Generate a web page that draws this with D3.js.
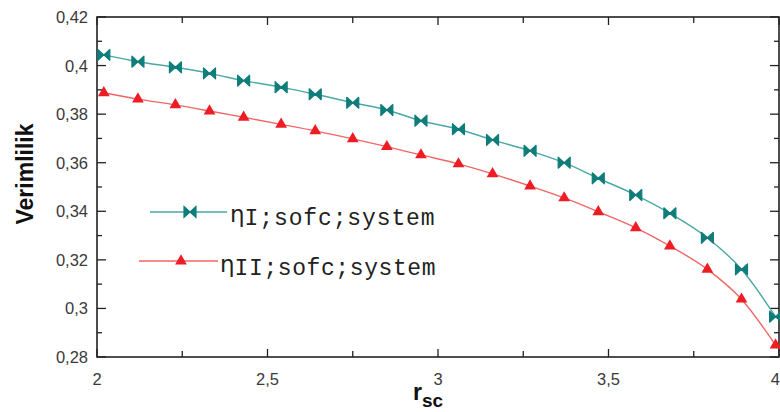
<!DOCTYPE html>
<html><head><meta charset="utf-8">
<script src="https://cdn.jsdelivr.net/npm/d3@7"></script>
<style>html,body{margin:0;padding:0;background:#fff;overflow:hidden}</style>
</head><body><svg id="c" width="780" height="412"></svg>
<script>
const rsc = [2.02,2.12,2.23,2.33,2.43,2.54,2.64,2.75,2.85,2.95,3.06,3.16,3.27,3.37,3.47,3.58,3.68,3.79,3.89,3.99];
const etaI = [0.4044,0.4016,0.3993,0.3968,0.3938,0.3911,0.3882,0.3847,0.3817,0.3773,0.3738,0.3694,0.3649,0.3600,0.3536,0.3467,0.3392,0.3291,0.3161,0.2966];
const etaII = [0.3888,0.3862,0.3838,0.3813,0.3787,0.3758,0.3731,0.3698,0.3666,0.3632,0.3595,0.3554,0.3504,0.3455,0.3398,0.3332,0.3257,0.3161,0.3038,0.2849];
const xTicks = [2,2.5,3,3.5,4];
const xTickLabels = ["2","2,5","3","3,5","4"];
const yTicks = [0.28,0.30,0.32,0.34,0.36,0.38,0.40,0.42];
const yTickLabels = ["0,28","0,3","0,32","0,34","0,36","0,38","0,4","0,42"];
const seriesNames = ["I;sofc;system","II;sofc;system"];

const svg = d3.select("#c");
const L=97,R=779,T=17,B=357;
const x = d3.scaleLinear().domain([2,4]).range([L,R]);
const y = d3.scaleLinear().domain([0.28,0.42]).range([B,T]);
const axisCol="#222";

// ticks (inward, mirrored)
const xMinor = d3.range(2,4.001,0.25);
const yMinor = d3.range(0.28,0.4201,0.01);
const tk = svg.append("g").attr("stroke",axisCol).attr("stroke-width",1.3);
xMinor.forEach(v=>{
  const major = Math.abs(v*2-Math.round(v*2))<1e-6;
  const len = major?8:6;
  tk.append("line").attr("x1",x(v)).attr("x2",x(v)).attr("y1",B).attr("y2",B-len);
  tk.append("line").attr("x1",x(v)).attr("x2",x(v)).attr("y1",T).attr("y2",T+len);
});
yMinor.forEach(v=>{
  const major = Math.abs(v*50-Math.round(v*50))<1e-6;
  const len = major?9:5;
  tk.append("line").attr("y1",y(v)).attr("y2",y(v)).attr("x1",L).attr("x2",L+len);
  tk.append("line").attr("y1",y(v)).attr("y2",y(v)).attr("x1",R).attr("x2",R-len);
});
svg.append("rect").attr("x",L).attr("y",T).attr("width",R-L).attr("height",B-T)
  .attr("fill","none").attr("stroke",axisCol).attr("stroke-width",1.6);

// tick labels
const lab = svg.append("g").attr("font-family","Liberation Sans, Arial, sans-serif").attr("font-size",16.5).attr("fill","#3a3a3a");
yTicks.forEach((v,i)=>{
  lab.append("text").attr("x",L-9).attr("y",y(v)).attr("dy","0.36em").attr("text-anchor","end").text(yTickLabels[i]);
});
xTicks.forEach((v,i)=>{
  const last = i===xTicks.length-1;
  lab.append("text").attr("x",last?780:x(v)).attr("y",385).attr("text-anchor",last?"end":"middle").text(xTickLabels[i]);
});

// axis titles
svg.append("text").attr("transform","translate(33,174) rotate(-90)").attr("text-anchor","middle")
  .attr("font-family","Liberation Sans, Arial, sans-serif").attr("font-weight","bold").attr("font-size",23).attr("fill","#111")
  .text("Verimlilik");
const xt = svg.append("text").attr("x",413).attr("y",400)
  .attr("font-family","Liberation Sans, Arial, sans-serif").attr("font-weight","bold").attr("fill","#111");
xt.append("tspan").attr("font-size",23).text("r");
xt.append("tspan").attr("font-size",19).attr("dy",7).text("sc");

const tealLine="#4aa8a5", tealMark="#0f7d7a", redLine="#f26565", redMark="#ee1c24";
const bow = "M-6,-5.5L0,0L-6,5.5ZM6,-5.5L0,0L6,5.5Z";
const tri = d3.symbol().type(d3.symbolTriangle).size(60)();

const line = d3.line().x(d=>x(d[0])).y(d=>y(d[1])).curve(d3.curveMonotoneX);
const d1 = rsc.map((v,i)=>[v,etaI[i]]);
const d2 = rsc.map((v,i)=>[v,etaII[i]]);
svg.append("path").attr("d",line(d1)).attr("fill","none").attr("stroke",tealLine).attr("stroke-width",1.4);
svg.append("path").attr("d",line(d2)).attr("fill","none").attr("stroke",redLine).attr("stroke-width",1.4);
svg.append("g").selectAll("path").data(d1).join("path")
  .attr("transform",d=>`translate(${x(d[0])},${y(d[1])})`).attr("d",bow)
  .attr("fill",tealMark).attr("stroke",tealMark).attr("stroke-width",1.2).attr("stroke-linejoin","round");
svg.append("g").selectAll("path").data(d2).join("path")
  .attr("transform",d=>`translate(${x(d[0])},${y(d[1])})`).attr("d",tri)
  .attr("fill",redMark);

// legend
const lg = svg.append("g");
lg.append("line").attr("x1",150).attr("x2",227).attr("y1",212).attr("y2",212).attr("stroke",tealLine).attr("stroke-width",1.6);
lg.append("path").attr("transform","translate(190,212)").attr("d",bow).attr("fill",tealMark).attr("stroke",tealMark).attr("stroke-width",1.2);
lg.append("line").attr("x1",139).attr("x2",218).attr("y1",261).attr("y2",261).attr("stroke",redLine).attr("stroke-width",1.6);
lg.append("path").attr("transform","translate(181,261)").attr("d",tri).attr("fill",redMark);

function legText(xp, yp, sub, subW){
  const t = lg.append("text").attr("x",xp).attr("y",yp).attr("fill","#222");
  t.append("tspan").attr("font-family","DejaVu Sans, sans-serif").attr("font-size",23).text("η");
  t.append("tspan").attr("font-family","Liberation Mono, Courier New, monospace").attr("font-size",23)
    .attr("dy",3).attr("textLength",subW).attr("lengthAdjust","spacing").text(sub);
}
legText(230,222,seriesNames[0],190);
legText(220,272,seriesNames[1],201);
</script></body></html>
